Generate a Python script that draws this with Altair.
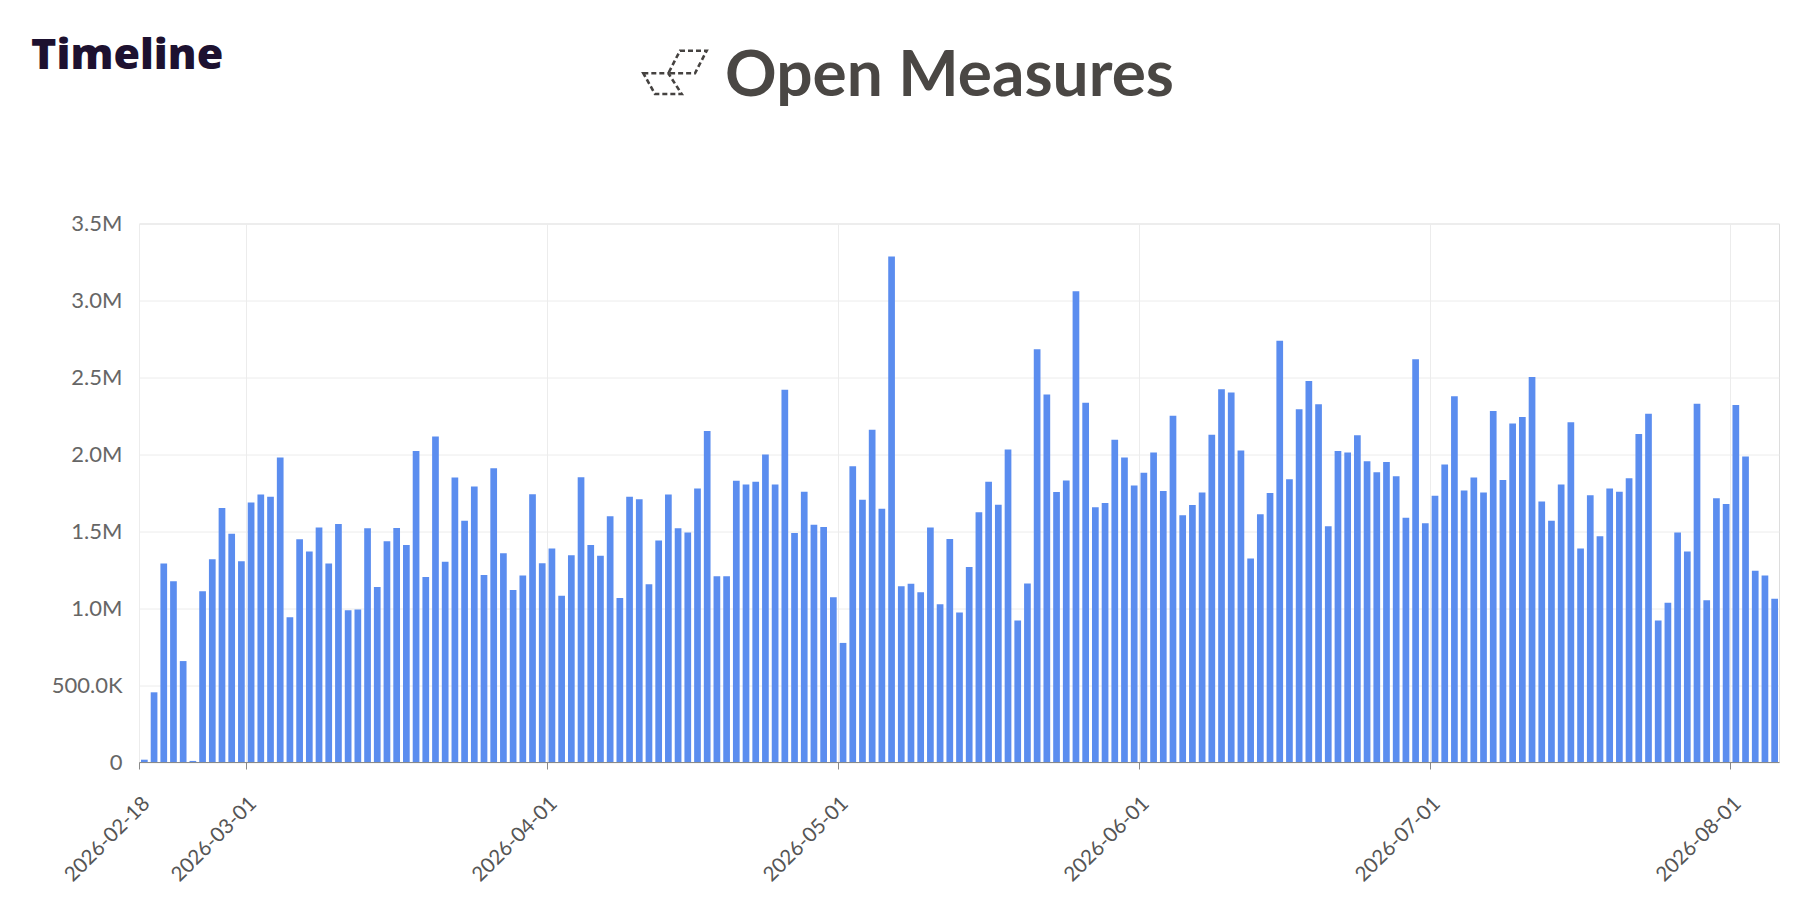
import altair as alt
import pandas as pd

# ---- data (in millions) ----
start_date = "2026-02-18"
feb = [0.015, 0.453, 1.29, 1.175, 0.656, 0.007, 1.11, 1.318, 1.651, 1.483, 1.304]
mar = [1.686, 1.738, 1.724, 1.979, 0.941, 1.448, 1.368, 1.524, 1.29, 1.547,
       0.986, 0.991, 1.519, 1.137, 1.434, 1.521, 1.41, 2.021, 1.203, 2.116,
       1.302, 1.849, 1.568, 1.79, 1.215, 1.910, 1.356, 1.118, 1.212, 1.741, 1.292]
apr = [1.387, 1.08, 1.344, 1.851, 1.41, 1.34, 1.597, 1.066, 1.724, 1.708,
       1.156, 1.439, 1.738, 1.519, 1.491, 1.778, 2.151, 1.208, 1.208, 1.828,
       1.804, 1.821, 1.998, 1.804, 2.42, 1.488, 1.757, 1.542, 1.528, 1.071]
may = [0.774, 1.922, 1.705, 2.160, 1.646, 3.285, 1.142, 1.158, 1.104, 1.524,
       1.026, 1.450, 0.972, 1.267, 1.623, 1.821, 1.672, 2.031, 0.92, 1.160,
       2.682, 2.389, 1.755, 1.830, 3.059, 2.335, 1.656, 1.684, 2.094, 1.979, 1.797]
jun = [1.880, 2.012, 1.762, 2.25, 1.604, 1.670, 1.752, 2.127, 2.422, 2.401,
       2.024, 1.323, 1.611, 1.748, 2.738, 1.837, 2.292, 2.476, 2.325, 1.533,
       2.021, 2.012, 2.123, 1.955, 1.884, 1.950, 1.858, 1.587, 2.618, 1.552]
jul = [1.731, 1.934, 2.377, 1.764, 1.849, 1.752, 2.281, 1.833, 2.200, 2.243,
       2.502, 1.693, 1.568, 1.804, 2.208, 1.387, 1.733, 1.467, 1.778, 1.757,
       1.844, 2.132, 2.264, 0.920, 1.035, 1.491, 1.368, 2.328, 1.052, 1.715, 1.677]
aug = [2.321, 1.986, 1.243, 1.212, 1.061]

values_m = feb + mar + apr + may + jun + jul + aug
dates = pd.date_range(start_date, periods=len(values_m), freq="D").strftime("%Y-%m-%dT00:00:00").tolist()

tick_dates = [(2026, 2, 18), (2026, 3, 1), (2026, 4, 1), (2026, 5, 1),
              (2026, 6, 1), (2026, 7, 1), (2026, 8, 1)]
y_ticks = [0, 500000, 1000000, 1500000, 2000000, 2500000, 3000000, 3500000]

title_text = ["Timeline"]
brand_text = ["Open Measures"]

df = pd.DataFrame({"date": dates, "count": [v * 1e6 for v in values_m]})

FONT = "Lato"
BAR = "#5B8DEF"

bars = alt.Chart(df).mark_bar(color=BAR, binSpacing=3).encode(
    x=alt.X(
        "yearmonthdate(date):T",
        title=None,
        scale=alt.Scale(domain=[alt.DateTime(year=2026, month=2, date=18),
                                alt.DateTime(year=2026, month=8, date=6)]),
        axis=alt.Axis(
            values=[alt.DateTime(year=y, month=m, date=d) for (y, m, d) in tick_dates],
            format="%Y-%m-%d",
            labelAngle=-45,
            labelAlign="right",
            labelBaseline="top",
            labelFlush=False,
            labelOverlap=False,
            labelPadding=24,
            labelFontSize=20.5,
            labelFont=FONT,
            labelColor="#555555",
            domainColor="#8a8a8a",
            tickColor="#8a8a8a",
            tickSize=7,
            grid=True,
            gridColor="#ececec",
        ),
    ),
    y=alt.Y(
        "count:Q",
        title=None,
        scale=alt.Scale(domain=[0, 3500000], nice=False),
        axis=alt.Axis(
            values=y_ticks,
            labelExpr="datum.value == 0 ? '0' : (datum.value < 1000000 ? format(datum.value / 1000, '.1f') + 'K' : format(datum.value / 1000000, '.1f') + 'M')",
            ticks=False,
            domain=False,
            labelPadding=17,
            labelFontSize=22,
            labelFont=FONT,
            labelColor="#666666",
            grid=True,
            gridColor="#ececec",
        ),
    ),
)

title = alt.Chart(pd.DataFrame({"label": title_text})).mark_text(
    align="left", baseline="alphabetic", fontSize=43, fontWeight=800,
    font="Open Sans", color="#1d1130"
).encode(x=alt.value(-108), y=alt.value(-155), text="label:N")

brand = alt.Chart(pd.DataFrame({"label": brand_text})).mark_text(
    align="left", baseline="alphabetic", fontSize=64, fontWeight="bold",
    font=FONT, color="#4a4744"
).encode(x=alt.value(586), y=alt.value(-128), text="label:N")

logo_path = ("M0.156,-0.675 L0.99,-0.675 L0.625,0.031 L-0.209,0.031 Z "
             "M-0.99,0.031 L-0.209,0.031 L0.209,0.678 L-0.625,0.678 Z")
logo = alt.Chart(pd.DataFrame({"label": ["logo"]})).mark_point(
    shape=logo_path, size=4096, filled=False, stroke="#454240",
    strokeWidth=2.6, strokeDash=[5, 3], opacity=1
).encode(x=alt.value(536), y=alt.value(-151.2))

chart = alt.layer(bars, title, brand, logo).properties(
    width=1640,
    height=538.5,
    autosize=alt.AutoSizeParams(type="none"),
    padding={"left": 131, "top": 215.5, "right": 29, "bottom": 134},
).configure_view(stroke="#ececec").configure(background="white")

chart.save("out.html", embed_options={"renderer": "svg", "actions": False})
